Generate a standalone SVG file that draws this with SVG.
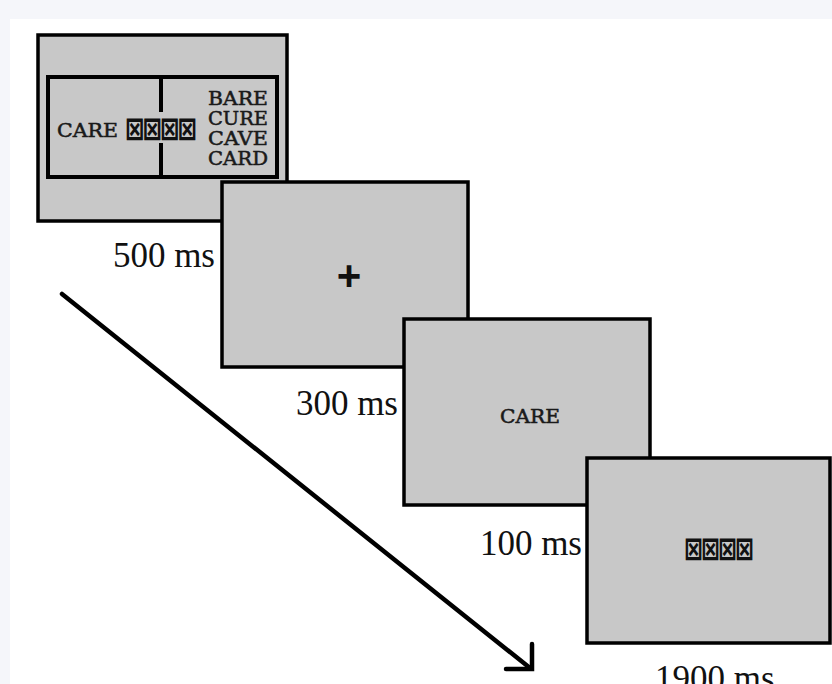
<svg xmlns="http://www.w3.org/2000/svg" width="832" height="684" viewBox="0 0 832 684">
<style>
.frame{fill:#c8c8c8;stroke:#000;stroke-width:3.5}
.mono{font-family:"DejaVu Serif","Liberation Serif",serif;font-size:18px;fill:#1a1a1a;stroke:#1a1a1a;stroke-width:0.5}
.sym{font-family:"DejaVu Sans Mono","DejaVu Sans",monospace;font-size:40px;font-weight:bold;fill:#111}
.lbl{font-family:"Liberation Serif","Times New Roman",serif;font-size:35px;fill:#111}
.conn{stroke:#000;stroke-width:4.5;fill:none;stroke-linecap:round;stroke-linejoin:miter}
</style>
<rect x="0" y="0" width="832" height="684" fill="#f5f6fa"/>
<rect x="10" y="19" width="822" height="665" fill="#ffffff"/>
<g id="frame1">
<rect class="frame" x="38" y="35" width="249" height="186"/>
<rect x="48" y="77" width="229" height="100" fill="none" stroke="#000" stroke-width="4"/>
<line x1="161" y1="77" x2="161" y2="112" stroke="#000" stroke-width="4"/>
<line x1="161" y1="143" x2="161" y2="177" stroke="#000" stroke-width="4"/>
<text class="mono" x="57" y="137" textLength="61" lengthAdjust="spacingAndGlyphs">CARE</text>
<text class="sym" x="126" y="142" textLength="70" lengthAdjust="spacingAndGlyphs">⊠⊠⊠⊠</text>
<text class="mono" x="268" y="105" text-anchor="end" textLength="60" lengthAdjust="spacingAndGlyphs">BARE</text>
<text class="mono" x="268" y="125" text-anchor="end" textLength="60" lengthAdjust="spacingAndGlyphs">CURE</text>
<text class="mono" x="268" y="145" text-anchor="end" textLength="60" lengthAdjust="spacingAndGlyphs">CAVE</text>
<text class="mono" x="268" y="165" text-anchor="end" textLength="60" lengthAdjust="spacingAndGlyphs">CARD</text>
</g>
<g id="label500"><text class="lbl" x="215" y="267" text-anchor="end">500 ms</text></g>
<g id="frame2">
<rect class="frame" x="222" y="182" width="246" height="185"/>
<text x="349" y="290" text-anchor="middle" font-family="Liberation Sans, Arial, sans-serif" font-size="42" font-weight="bold" fill="#111">+</text>
</g>
<g id="label300"><text class="lbl" x="398" y="415" text-anchor="end">300 ms</text></g>
<g id="frame3">
<rect class="frame" x="404" y="319" width="246" height="186"/>
<text class="mono" x="500" y="423" textLength="60" lengthAdjust="spacingAndGlyphs">CARE</text>
</g>
<g id="label100"><text class="lbl" x="582" y="555" text-anchor="end">100 ms</text></g>
<g id="frame4">
<rect class="frame" x="587" y="458" width="243" height="185"/>
<text class="sym" x="685" y="562" textLength="68" lengthAdjust="spacingAndGlyphs">⊠⊠⊠⊠</text>
</g>
<g id="label1900"><text class="lbl" x="655" y="690">1900 ms</text></g>
<g id="connectors">
<line class="conn" x1="62" y1="294" x2="530" y2="668"/>
<polyline class="conn" points="506,669 532,669 532,644"/>
</g>
</svg>
